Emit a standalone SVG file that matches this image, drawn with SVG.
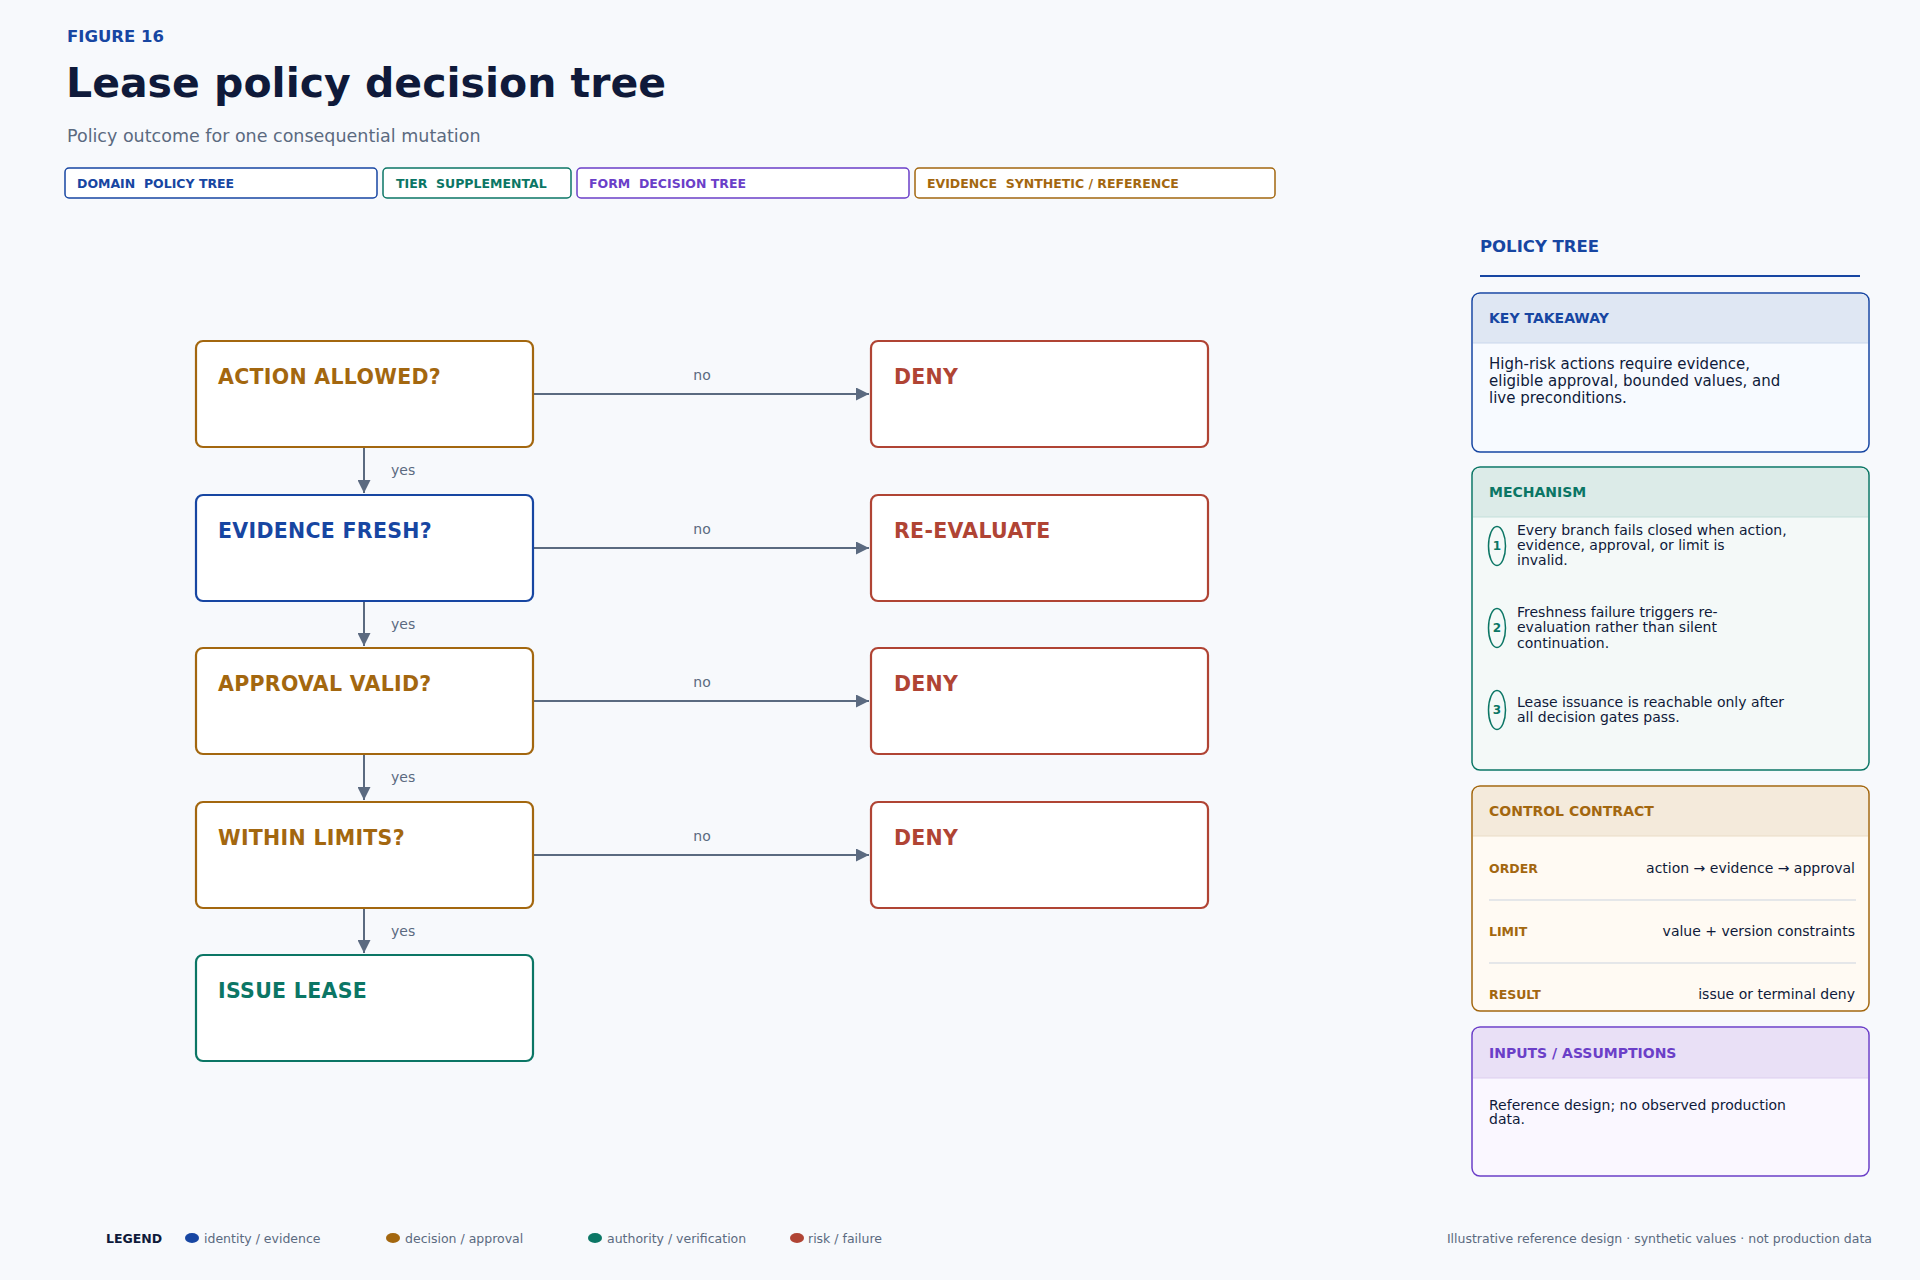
<svg xmlns="http://www.w3.org/2000/svg" width="1920" height="1280" viewBox="0 0 1920 1280">
<style>
text{font-family:"DejaVu Sans","Liberation Sans",sans-serif}
.tag{font-size:12.5px;font-weight:bold;white-space:pre}
.node{fill:#fff;stroke-width:2.2}
.nt{font-size:20.5px;font-weight:bold;letter-spacing:0.3px}
.lbl{font-size:14px;fill:#5b6a80}
.edge{stroke:#5b6a80;stroke-width:2;fill:none;marker-end:url(#ah)}
.ph{font-size:14px;font-weight:bold}
.body{font-size:15px;fill:#0f1a3a}
.sm{font-size:14px;fill:#0f1a3a}
.leg{font-size:12.5px;fill:#5b6a80}
</style>
<defs>
<marker id="ah" viewBox="0 0 10 10" refX="10" refY="5" markerWidth="6.5" markerHeight="6.5" orient="auto" markerUnits="strokeWidth"><path d="M0,0L10,5L0,10z" fill="#5b6a80"/></marker>
</defs>
<rect width="1920" height="1280" fill="#f7f9fc"/>
<g id="header">
<text x="67" y="42" font-size="16.5" font-weight="bold" fill="#1746a2">FIGURE 16</text>
<text x="66" y="97" font-size="41" font-weight="bold" fill="#0f1a3a">Lease policy decision tree</text>
<text x="67" y="142" font-size="17.5" fill="#5b6a80">Policy outcome for one consequential mutation</text>
<rect x="65" y="168" width="312" height="30" rx="4" fill="#fff" stroke="#1746a2" stroke-width="1.5"/>
<text x="77" y="188" class="tag" fill="#1746a2" xml:space="preserve">DOMAIN  POLICY TREE</text>
<rect x="383" y="168" width="188" height="30" rx="4" fill="#fff" stroke="#0b7665" stroke-width="1.5"/>
<text x="396" y="188" class="tag" fill="#0b7665" xml:space="preserve">TIER  SUPPLEMENTAL</text>
<rect x="577" y="168" width="332" height="30" rx="4" fill="#fff" stroke="#6b3fc8" stroke-width="1.5"/>
<text x="589" y="188" class="tag" fill="#6b3fc8" xml:space="preserve">FORM  DECISION TREE</text>
<rect x="915" y="168" width="360" height="30" rx="4" fill="#fff" stroke="#a3670f" stroke-width="1.5"/>
<text x="927" y="188" class="tag" fill="#a3670f" xml:space="preserve">EVIDENCE  SYNTHETIC / REFERENCE</text>
</g>
<g id="connectors">
<line x1="533" y1="394" x2="869" y2="394" class="edge"/><text x="702" y="380" class="lbl" text-anchor="middle">no</text>
<line x1="533" y1="548" x2="869" y2="548" class="edge"/><text x="702" y="534" class="lbl" text-anchor="middle">no</text>
<line x1="533" y1="701" x2="869" y2="701" class="edge"/><text x="702" y="687" class="lbl" text-anchor="middle">no</text>
<line x1="533" y1="855" x2="869" y2="855" class="edge"/><text x="702" y="841" class="lbl" text-anchor="middle">no</text>
<line x1="364" y1="447" x2="364" y2="493" class="edge"/><text x="391" y="475" class="lbl">yes</text>
<line x1="364" y1="601" x2="364" y2="646" class="edge"/><text x="391" y="629" class="lbl">yes</text>
<line x1="364" y1="754" x2="364" y2="800" class="edge"/><text x="391" y="782" class="lbl">yes</text>
<line x1="364" y1="908" x2="364" y2="953" class="edge"/><text x="391" y="936" class="lbl">yes</text>
</g>
<g id="n-action"><rect x="196" y="341" width="337" height="106" rx="7" class="node" stroke="#a3670f"/><text x="218" y="384" class="nt" fill="#a3670f">ACTION ALLOWED?</text></g>
<g id="n-evidence"><rect x="196" y="495" width="337" height="106" rx="7" class="node" stroke="#1746a2"/><text x="218" y="538" class="nt" fill="#1746a2">EVIDENCE FRESH?</text></g>
<g id="n-approval"><rect x="196" y="648" width="337" height="106" rx="7" class="node" stroke="#a3670f"/><text x="218" y="691" class="nt" fill="#a3670f">APPROVAL VALID?</text></g>
<g id="n-limits"><rect x="196" y="802" width="337" height="106" rx="7" class="node" stroke="#a3670f"/><text x="218" y="845" class="nt" fill="#a3670f">WITHIN LIMITS?</text></g>
<g id="n-issue"><rect x="196" y="955" width="337" height="106" rx="7" class="node" stroke="#0b7665"/><text x="218" y="998" class="nt" fill="#0b7665">ISSUE LEASE</text></g>
<g id="n-deny1"><rect x="871" y="341" width="337" height="106" rx="7" class="node" stroke="#b04434"/><text x="894" y="384" class="nt" fill="#b04434">DENY</text></g>
<g id="n-reeval"><rect x="871" y="495" width="337" height="106" rx="7" class="node" stroke="#b04434"/><text x="894" y="538" class="nt" fill="#b04434">RE-EVALUATE</text></g>
<g id="n-deny2"><rect x="871" y="648" width="337" height="106" rx="7" class="node" stroke="#b04434"/><text x="894" y="691" class="nt" fill="#b04434">DENY</text></g>
<g id="n-deny3"><rect x="871" y="802" width="337" height="106" rx="7" class="node" stroke="#b04434"/><text x="894" y="845" class="nt" fill="#b04434">DENY</text></g>
<g id="panel">
<text x="1480" y="252" font-size="16.5" font-weight="bold" fill="#1746a2">POLICY TREE</text>
<line x1="1480" y1="276" x2="1860" y2="276" stroke="#1746a2" stroke-width="2"/>
<g id="p-key">
<rect x="1472" y="293" width="397" height="159" rx="8" fill="#f7faff" stroke="#1746a2" stroke-width="1.5"/>
<path d="M1473,343V301a7,7 0 0 1 7,-7H1861a7,7 0 0 1 7,7V343z" fill="#dfe7f3"/>
<line x1="1473" y1="343" x2="1868" y2="343" stroke="#c9d6ec"/>
<text x="1489" y="323" class="ph" fill="#1746a2">KEY TAKEAWAY</text>
<text class="body"><tspan x="1489" y="369">High-risk actions require evidence,</tspan><tspan x="1489" y="386">eligible approval, bounded values, and</tspan><tspan x="1489" y="403">live preconditions.</tspan></text>
</g>
<g id="p-mech">
<rect x="1472" y="467" width="397" height="303" rx="8" fill="#f4f9f8" stroke="#0b7665" stroke-width="1.5"/>
<path d="M1473,517V475a7,7 0 0 1 7,-7H1861a7,7 0 0 1 7,7V517z" fill="#dcebe8"/>
<line x1="1473" y1="517" x2="1868" y2="517" stroke="#c3dfda"/>
<text x="1489" y="497" class="ph" fill="#0b7665">MECHANISM</text>
<g fill="none" stroke="#0b7665" stroke-width="1.5"><ellipse cx="1497" cy="546" rx="8.5" ry="19.5"/><ellipse cx="1497" cy="628" rx="8.5" ry="19.5"/><ellipse cx="1497" cy="710" rx="8.5" ry="19.5"/></g>
<g font-size="12" font-weight="bold" fill="#0b7665" text-anchor="middle"><text x="1497" y="550">1</text><text x="1497" y="632">2</text><text x="1497" y="714">3</text></g>
<text class="sm"><tspan x="1517" y="535">Every branch fails closed when action,</tspan><tspan x="1517" y="550">evidence, approval, or limit is</tspan><tspan x="1517" y="565">invalid.</tspan></text>
<text class="sm"><tspan x="1517" y="617">Freshness failure triggers re-</tspan><tspan x="1517" y="632">evaluation rather than silent</tspan><tspan x="1517" y="648">continuation.</tspan></text>
<text class="sm"><tspan x="1517" y="707">Lease issuance is reachable only after</tspan><tspan x="1517" y="722">all decision gates pass.</tspan></text>
</g>
<g id="p-contract">
<rect x="1472" y="786" width="397" height="225" rx="8" fill="#fffaf3" stroke="#a3670f" stroke-width="1.5"/>
<path d="M1473,836V794a7,7 0 0 1 7,-7H1861a7,7 0 0 1 7,7V836z" fill="#f4eadb"/>
<line x1="1473" y1="836" x2="1868" y2="836" stroke="#eadcc6"/>
<text x="1489" y="816" class="ph" fill="#a3670f">CONTROL CONTRACT</text>
<g font-size="12.5" font-weight="bold" fill="#a3670f"><text x="1489" y="873">ORDER</text><text x="1489" y="936">LIMIT</text><text x="1489" y="999">RESULT</text></g>
<g class="sm" text-anchor="end" font-size="13.5"><text x="1855" y="873">action → evidence → approval</text><text x="1855" y="936">value + version constraints</text><text x="1855" y="999">issue or terminal deny</text></g>
<line x1="1489" y1="900" x2="1856" y2="900" stroke="#cbd3df"/>
<line x1="1489" y1="963" x2="1856" y2="963" stroke="#cbd3df"/>
</g>
<g id="p-inputs">
<rect x="1472" y="1027" width="397" height="149" rx="8" fill="#faf7ff" stroke="#6b3fc8" stroke-width="1.5"/>
<path d="M1473,1078V1035a7,7 0 0 1 7,-7H1861a7,7 0 0 1 7,7V1078z" fill="#e9e0f6"/>
<line x1="1473" y1="1078" x2="1868" y2="1078" stroke="#dccfef"/>
<text x="1489" y="1058" class="ph" fill="#6b3fc8">INPUTS / ASSUMPTIONS</text>
<text class="sm" font-size="13.5"><tspan x="1489" y="1110">Reference design; no observed production</tspan><tspan x="1489" y="1124">data.</tspan></text>
</g>
</g>
<g id="legend">
<text x="106" y="1243" font-size="12.5" font-weight="bold" fill="#0f1a3a">LEGEND</text>
<ellipse cx="192" cy="1238" rx="7" ry="5" fill="#1746a2"/><text x="204" y="1243" class="leg">identity / evidence</text>
<ellipse cx="393" cy="1238" rx="7" ry="5" fill="#a3670f"/><text x="405" y="1243" class="leg">decision / approval</text>
<ellipse cx="595" cy="1238" rx="7" ry="5" fill="#0b7665"/><text x="607" y="1243" class="leg">authority / verification</text>
<ellipse cx="797" cy="1238" rx="7" ry="5" fill="#b04434"/><text x="808" y="1243" class="leg">risk / failure</text>
<text x="1872" y="1243" class="leg" text-anchor="end" font-size="12.2">Illustrative reference design · synthetic values · not production data</text>
</g>
</svg>
